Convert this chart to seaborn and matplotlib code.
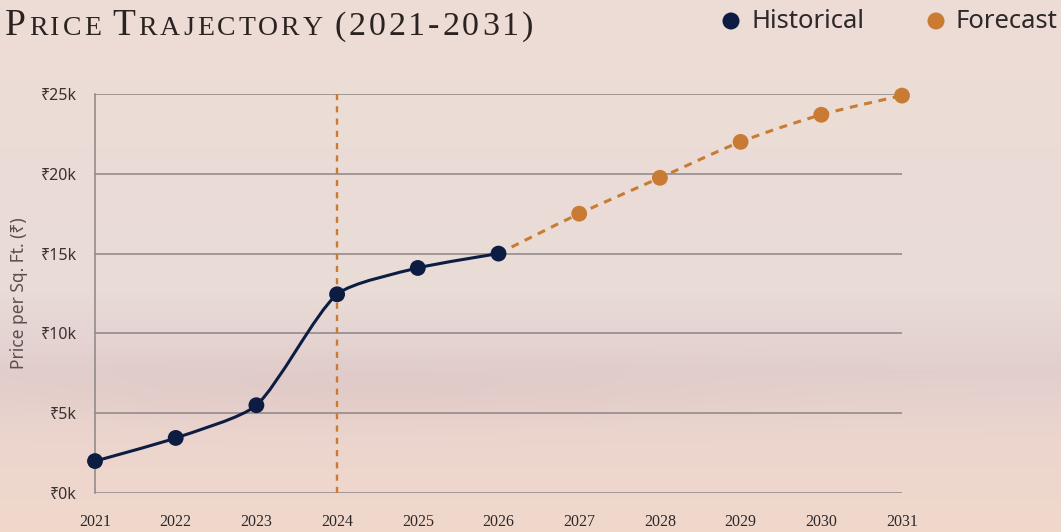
import numpy as np
import matplotlib
matplotlib.use("Agg")
import matplotlib.pyplot as plt
import seaborn as sns
from matplotlib.path import Path
from matplotlib.patches import PathPatch

# data
hist_years = [2021, 2022, 2023, 2024, 2025, 2026]
hist_price = [2000, 3450, 5500, 12450, 14100, 15000]
fc_years = [2026, 2027, 2028, 2029, 2030, 2031]
fc_price = [15000, 17500, 19750, 22000, 23700, 24900]
marker_line_year = 2024
y_ticks = [0, 5000, 10000, 15000, 20000, 25000]
y_tick_labels = ["₹0k", "₹5k", "₹10k", "₹15k", "₹20k", "₹25k"]
x_ticks = list(range(2021, 2032))

NAVY = "#0c1c42"
ORANGE = "#c97b33"
GRID = "#8d8585"
W, H = 1061, 532


def spline_path(ax, x, y, tension=0.4):
    # bezier path like chart.js line tension, worked out in pixel space
    pts = ax.transData.transform(np.column_stack([x, y]))
    n = len(pts)
    cin, cout = pts.copy(), pts.copy()
    for i in range(1, n - 1):
        prev, cur, nxt = pts[i - 1], pts[i], pts[i + 1]
        d01 = np.hypot(*(cur - prev))
        d12 = np.hypot(*(nxt - cur))
        fa = tension * d01 / (d01 + d12)
        fb = tension * d12 / (d01 + d12)
        cin[i] = cur - fa * (nxt - prev)
        cout[i] = cur + fb * (nxt - prev)
    verts = [pts[0]]
    codes = [Path.MOVETO]
    for i in range(n - 1):
        verts += [cout[i], cin[i + 1], pts[i + 1]]
        codes += [Path.CURVE4] * 3
    verts = ax.transData.inverted().transform(np.array(verts))
    return Path(verts, codes)


sns.set_style("white")
plt.rcParams["font.family"] = ["Noto Sans", "DejaVu Sans"]

fig = plt.figure(figsize=(W / 100, H / 100), dpi=100)

# soft warm background
bg = fig.add_axes([0, 0, 1, 1], zorder=-10)
yy = np.linspace(0, 1, H)[:, None]
xx = np.linspace(0, 1, W)[None, :]
stops_y = [0.0, 0.55, 0.70, 0.82, 1.0]
stops_c = np.array([[237, 221, 213], [233, 219, 215], [226, 207, 205],
                    [236, 213, 206], [240, 216, 203]]) / 255
img = np.stack([np.interp(yy[:, 0], stops_y, stops_c[:, k]) for k in range(3)], axis=-1)
img = np.repeat(img[:, None, :], W, axis=1)
cloud = np.exp(-((xx - 0.35) / 0.35) ** 2 - ((yy - 0.74) / 0.06) ** 2)
img -= 0.02 * cloud[..., None] * np.array([0.6, 1.0, 0.9])
img = np.clip(img, 0, 1)
bg.imshow(img, aspect="auto", extent=[0, W, H, 0])
bg.set_xlim(0, W)
bg.set_ylim(H, 0)
bg.axis("off")

ax = fig.add_axes([95 / W, 1 - 493 / H, (902 - 95) / W, (493 - 94) / H])
ax.patch.set_alpha(0)
ax.set_xlim(2021, 2031)
ax.set_ylim(0, 25000)

ax.axvline(marker_line_year, color=ORANGE, lw=1.7, ls=(0, (2.6, 2.6)), zorder=1)

ax.add_patch(PathPatch(spline_path(ax, hist_years, hist_price, 0.22), fill=False,
                       edgecolor=NAVY, lw=2.2, zorder=3, capstyle="round"))
ax.add_patch(PathPatch(spline_path(ax, fc_years, fc_price, 0.3), fill=False,
                       edgecolor=ORANGE, lw=2.2, ls=(0, (2.6, 2.2)), zorder=2))

sns.scatterplot(x=hist_years, y=hist_price, ax=ax, color=NAVY, s=130,
                edgecolor="none", zorder=4, clip_on=False)
sns.scatterplot(x=fc_years[1:], y=fc_price[1:], ax=ax, color=ORANGE, s=130,
                edgecolor="none", zorder=4, clip_on=False)

ax.set_xlim(2021, 2031)
ax.set_ylim(0, 25000)
ax.set_yticks(y_ticks)
ax.set_yticklabels(y_tick_labels)
ax.set_xticks(x_ticks)
ax.set_xticklabels([str(v) for v in x_ticks], family="Liberation Serif", fontsize=11.5)
ax.tick_params(axis="y", length=8.5, width=1.1, color=GRID, pad=4.5,
               labelsize=11.5, labelcolor="#3a3232")
ax.tick_params(axis="x", length=0, pad=15, labelcolor="#2e2828")
ax.yaxis.grid(True, color=GRID, lw=1.1)
ax.set_axisbelow(True)
for side in ["top", "right", "bottom"]:
    ax.spines[side].set_visible(False)
ax.spines["left"].set_color(GRID)
ax.spines["left"].set_linewidth(1.1)
ax.set_xlabel("")
ax.set_ylabel("Price per Sq. Ft. (₹)", fontsize=12.5, color="#5a5050", labelpad=9)

# title in small caps, drawn letter by letter with some tracking
runs = [("P", 27), ("RICE ", 20), ("T", 27), ("RAJECTORY ", 20), ("(2021-2031)", 24.5)]
renderer = fig.canvas.get_renderer()
x0 = 5
for txt, size in runs:
    for ch in txt:
        if ch == " ":
            x0 += 9
            continue
        t = fig.text(x0 / W, 1 - 35 / H, ch, fontsize=size, family="Liberation Serif",
                     color="#2b2321", va="baseline", ha="left")
        x0 += t.get_window_extent(renderer).width + 2.9

# legend
for mx, label, col in [(731, "Historical", NAVY), (936, "Forecast", ORANGE)]:
    bg.scatter([mx], [21], s=150, color=col, edgecolor="none")
    bg.text(mx + 20, 22, label, fontsize=18.5, color="#2e2828", va="center", ha="left")

fig.savefig("out.png", dpi=100)
